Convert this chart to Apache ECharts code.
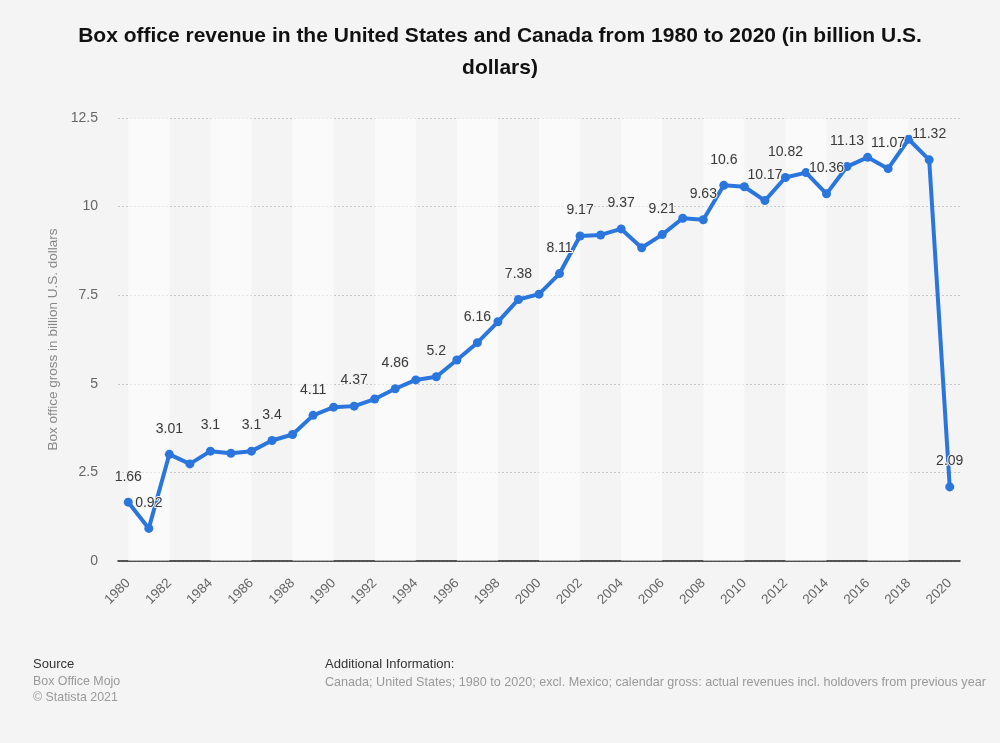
<!DOCTYPE html>
<html>
<head>
<meta charset="utf-8">
<script src="https://cdn.jsdelivr.net/npm/echarts@6/dist/echarts.min.js"></script>
<style>
html,body{margin:0;padding:0;background:#f4f4f4;}
#chart{width:1000px;height:743px;}
</style>
</head>
<body>
<div id="chart"></div>
<script>
const years = [];
for (let y = 1980; y <= 2020; y++) years.push(String(y));
const revenue = [1.66, 0.92, 3.01, 2.74, 3.1, 3.04, 3.1, 3.4, 3.57, 4.11,
  4.34, 4.37, 4.57, 4.86, 5.11, 5.2, 5.67, 6.16, 6.75, 7.38,
  7.53, 8.11, 9.17, 9.2, 9.37, 8.84, 9.21, 9.67, 9.63, 10.6,
  10.56, 10.17, 10.82, 10.96, 10.36, 11.13, 11.39, 11.07, 11.9, 11.32,
  2.09];
const labelledYears = ['1980','1981','1982','1984','1986','1987','1989','1991','1993','1995',
  '1997','1999','2001','2002','2004','2006','2008','2009','2011','2012',
  '2014','2015','2017','2019','2020'];
const yTicks = [0, 2.5, 5, 7.5, 10, 12.5];
const titleLine1 = 'Box office revenue in the United States and Canada from 1980 to 2020 (in billion U.S.';
const titleLine2 = 'dollars)';
const yAxisTitle = 'Box office gross in billion U.S. dollars';

const FONT = 'Liberation Sans, Arial, sans-serif';

const bands = [];
for (let i = 0; i + 2 < years.length; i += 4) {
  bands.push([{ xAxis: years[i] }, { xAxis: years[i + 2] }]);
}

const seriesData = revenue.map((v, i) => ({
  value: v,
  label: { show: labelledYears.indexOf(years[i]) >= 0 }
}));

const chart = echarts.init(document.getElementById('chart'), null, { renderer: 'canvas' });
chart.setOption({
  backgroundColor: '#f4f4f4',
  animation: false,
  grid: { left: 118, right: 40, top: 118, bottom: 182, containLabel: false },
  xAxis: {
    type: 'category',
    data: years,
    boundaryGap: true,
    axisLine: { show: true, lineStyle: { color: '#222', width: 1.5 } },
    axisTick: { show: false },
    axisLabel: {
      interval: 1,
      rotate: 45,
      margin: 20,
      fontFamily: FONT,
      fontSize: 13.5,
      color: '#666'
    },
    splitLine: { show: false }
  },
  yAxis: {
    type: 'value',
    min: 0,
    max: 12.5,
    interval: 2.5,
    name: yAxisTitle,
    nameLocation: 'middle',
    nameGap: 58,
    nameTextStyle: { fontFamily: FONT, fontSize: 13.5, color: '#888' },
    axisLine: { show: false },
    axisTick: { show: false },
    axisLabel: {
      margin: 20,
      fontFamily: FONT,
      fontSize: 14,
      color: '#666',
      formatter: function (v) { return yTicks.indexOf(v) >= 0 ? String(v) : ''; }
    },
    splitLine: { show: true, lineStyle: { color: '#c8c8c8', type: [2, 2], width: 1 } }
  },
  series: [{
    type: 'line',
    data: seriesData,
    symbol: 'circle',
    symbolSize: 9,
    itemStyle: { color: '#2a76dd' },
    lineStyle: { color: '#2a76dd', width: 4 },
    label: {
      position: 'top',
      distance: 14,
      fontFamily: FONT,
      fontSize: 14,
      color: '#3a3a3a',
      textBorderColor: '#f4f4f4',
      textBorderWidth: 2
    },
    markArea: {
      silent: true,
      itemStyle: { color: 'rgba(255,255,255,0.55)' },
      data: bands
    },
    z: 3
  }],
  graphic: [
    { type: 'text', left: 'center', top: 26, style: { text: titleLine1, font: 'bold 21px ' + FONT, fill: '#111' } },
    { type: 'text', left: 'center', top: 58, style: { text: titleLine2, font: 'bold 21px ' + FONT, fill: '#111' } },
    { type: 'text', left: 33, top: 658, style: { text: 'Source', font: '13px ' + FONT, fill: '#333' } },
    { type: 'text', left: 33, top: 676, style: { text: 'Box Office Mojo', font: '12.4px ' + FONT, fill: '#999' } },
    { type: 'text', left: 33, top: 692, style: { text: '\u00a9 Statista 2021', font: '12.4px ' + FONT, fill: '#999' } },
    { type: 'text', left: 325, top: 658, style: { text: 'Additional Information:', font: '13px ' + FONT, fill: '#333' } },
    { type: 'text', left: 325, top: 676, style: { text: 'Canada; United States; 1980 to 2020; excl. Mexico; calendar gross: actual revenues incl. holdovers from previous year', font: '12.6px ' + FONT, fill: '#999' } }
  ]
});
</script>
</body>
</html>
